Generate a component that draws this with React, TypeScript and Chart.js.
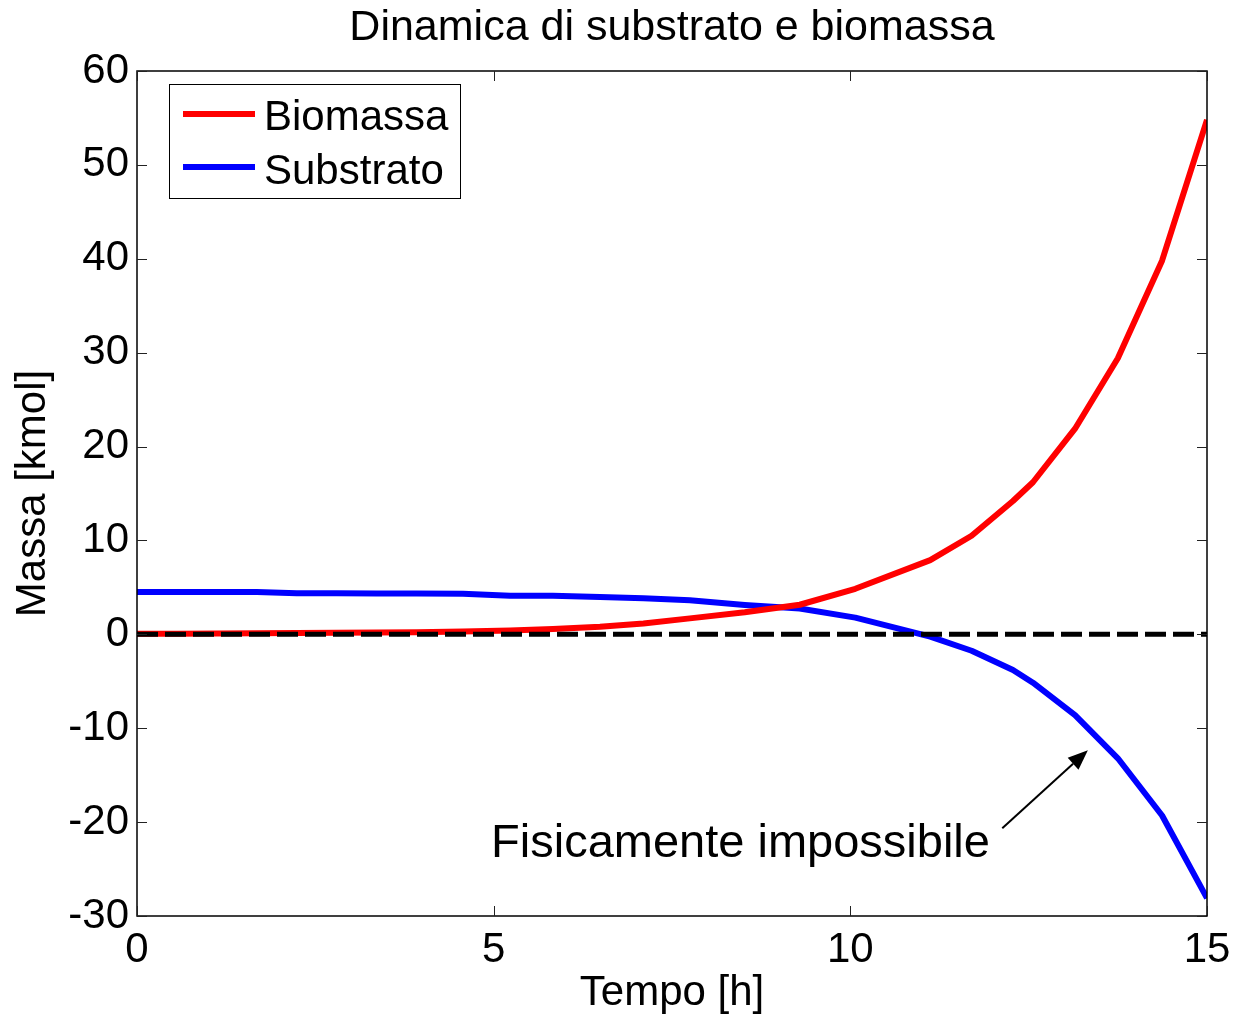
import React, { useEffect, useRef } from "react";
import { Chart, registerables } from "chart.js";

Chart.register(...registerables);

// ---- data ----
const timeH = [0, 0.56, 1.12, 1.68, 2.24, 2.8, 3.36, 3.92, 4.57, 5.23, 5.83, 6.49, 7.1, 7.75, 8.52, 9.29, 10.07, 11.12, 11.7, 12.28, 12.56, 13.15, 13.75, 14.37, 15];
const biomassa = [0.05, 0.06, 0.08, 0.12, 0.14, 0.16, 0.19, 0.22, 0.3, 0.4, 0.58, 0.82, 1.15, 1.7, 2.35, 3.15, 4.85, 7.9, 10.5, 14.2, 16.2, 21.9, 29.4, 39.8, 54.8];
const substrato = [4.5, 4.5, 4.5, 4.5, 4.38, 4.38, 4.36, 4.35, 4.33, 4.12, 4.1, 3.97, 3.85, 3.62, 3.12, 2.75, 1.78, -0.25, -1.75, -3.8, -5.15, -8.6, -13.2, -19.3, -28.1];
const zeroLineT = [0, 15];
const zeroLineV = [0, 0];
const xTicks = [0, 5, 10, 15];
const yTicks = [-30, -20, -10, 0, 10, 20, 30, 40, 50, 60];
const seriesLabels = ["Biomassa", "Substrato"];
const chartTitle = "Dinamica di substrato e biomassa";
const xLabel = "Tempo [h]";
const yLabel = "Massa [kmol]";
const annotationText = "Fisicamente impossibile";
const annotationPos = { x: 8.46, y: -23.75 };
const arrowFrom = { x: 12.13, y: -20.66 };
const arrowTo = { x: 13.33, y: -12.35 };

const FONT = '"Liberation Sans", Arial, Helvetica, sans-serif';
const RED = "#ff0000";
const BLUE = "#0000ff";

const decorPlugin = {
  id: "decor",
  afterDraw(chart: any) {
    const { ctx, chartArea: a, scales } = chart;
    const xs = scales.x;
    const ys = scales.y;
    ctx.save();
    // axes box
    ctx.strokeStyle = "#000";
    ctx.lineWidth = 1.5;
    ctx.strokeRect(a.left, a.top, a.right - a.left, a.bottom - a.top);
    // inward ticks
    ctx.lineWidth = 1;
    ctx.strokeStyle = "#222";
    const tl = 10;
    ctx.beginPath();
    yTicks.forEach((v) => {
      const p = Math.round(ys.getPixelForValue(v)) + 0.5;
      ctx.moveTo(a.left, p);
      ctx.lineTo(a.left + tl, p);
      ctx.moveTo(a.right - tl, p);
      ctx.lineTo(a.right, p);
    });
    xTicks.forEach((v) => {
      const p = Math.round(xs.getPixelForValue(v)) + 0.5;
      ctx.moveTo(p, a.bottom);
      ctx.lineTo(p, a.bottom - tl);
      ctx.moveTo(p, a.top);
      ctx.lineTo(p, a.top + tl);
    });
    ctx.stroke();

    // title
    ctx.fillStyle = "#000";
    ctx.font = `43px ${FONT}`;
    ctx.textAlign = "center";
    ctx.textBaseline = "alphabetic";
    ctx.fillText(chartTitle, (a.left + a.right) / 2, 40);

    // legend
    const lx = 169.5, ly = 84.5, lw = 291, lh = 114;
    ctx.fillStyle = "#fff";
    ctx.fillRect(lx, ly, lw, lh);
    ctx.strokeStyle = "#000";
    ctx.lineWidth = 1;
    ctx.strokeRect(lx, ly, lw, lh);
    const entries = [
      { label: seriesLabels[0], color: RED, y: 114, base: 130 },
      { label: seriesLabels[1], color: BLUE, y: 167, base: 184 },
    ];
    ctx.font = `42px ${FONT}`;
    ctx.textAlign = "left";
    entries.forEach((e) => {
      ctx.strokeStyle = e.color;
      ctx.lineWidth = 6;
      ctx.beginPath();
      ctx.moveTo(183, e.y);
      ctx.lineTo(255, e.y);
      ctx.stroke();
      ctx.fillStyle = "#000";
      ctx.fillText(e.label, 264, e.base);
    });

    // annotation text
    ctx.font = `47px ${FONT}`;
    ctx.textAlign = "center";
    ctx.fillStyle = "#000";
    ctx.fillText(annotationText, xs.getPixelForValue(annotationPos.x), ys.getPixelForValue(annotationPos.y));

    // arrow
    const x1 = xs.getPixelForValue(arrowFrom.x), y1 = ys.getPixelForValue(arrowFrom.y);
    const x2 = xs.getPixelForValue(arrowTo.x), y2 = ys.getPixelForValue(arrowTo.y);
    const ang = Math.atan2(y2 - y1, x2 - x1);
    const hl = 20, hw = 8;
    const bx = x2 - hl * Math.cos(ang), by = y2 - hl * Math.sin(ang);
    ctx.strokeStyle = "#000";
    ctx.lineWidth = 2;
    ctx.beginPath();
    ctx.moveTo(x1, y1);
    ctx.lineTo(bx, by);
    ctx.stroke();
    ctx.fillStyle = "#000";
    ctx.beginPath();
    ctx.moveTo(x2, y2);
    ctx.lineTo(bx + hw * Math.sin(ang), by - hw * Math.cos(ang));
    ctx.lineTo(bx - hw * Math.sin(ang), by + hw * Math.cos(ang));
    ctx.closePath();
    ctx.fill();
    ctx.restore();
  },
};

export default function App() {
  const ref = useRef<HTMLCanvasElement | null>(null);
  useEffect(() => {
    document.body.style.margin = "0";
    const canvas = ref.current;
    if (!canvas) return;
    const chart = new Chart(canvas, {
      type: "line",
      data: {
        datasets: [
          {
            label: "zero",
            data: zeroLineT.map((t, i) => ({ x: t, y: zeroLineV[i] })),
            borderColor: "#000",
            borderWidth: 5,
            borderDash: [21, 7],
            pointRadius: 0,
            order: 0,
          },
          {
            label: seriesLabels[0],
            data: timeH.map((t, i) => ({ x: t, y: biomassa[i] })),
            borderColor: RED,
            borderWidth: 6,
            borderJoinStyle: "round",
            pointRadius: 0,
            tension: 0,
            order: 1,
          },
          {
            label: seriesLabels[1],
            data: timeH.map((t, i) => ({ x: t, y: substrato[i] })),
            borderColor: BLUE,
            borderWidth: 6,
            borderJoinStyle: "round",
            pointRadius: 0,
            tension: 0,
            order: 2,
          },
        ],
      },
      options: {
        animation: false,
        responsive: false,
        maintainAspectRatio: false,
        devicePixelRatio: 1,
        layout: { padding: { top: 71, right: 29, left: 0, bottom: 0 } },
        plugins: {
          legend: { display: false },
          tooltip: { enabled: false },
          title: { display: false },
        },
        scales: {
          x: {
            type: "linear",
            min: 0,
            max: 15,
            afterFit: (s: any) => {
              s.height = 101;
              s.paddingLeft = 0;
              s.paddingRight = 0;
            },
            afterBuildTicks: (s: any) => {
              s.ticks = xTicks.map((v) => ({ value: v }));
            },
            ticks: {
              font: { family: FONT, size: 42 },
              color: "#000",
              padding: 9,
              autoSkip: false,
              maxRotation: 0,
            },
            grid: { display: false, drawTicks: false },
            border: { display: false },
            title: {
              display: true,
              text: xLabel,
              color: "#000",
              font: { family: FONT, size: 42 },
              padding: { top: 0, bottom: -2 },
            },
          },
          y: {
            type: "linear",
            min: -30,
            max: 60,
            afterFit: (s: any) => {
              s.width = 137;
              s.paddingTop = 0;
              s.paddingBottom = 0;
            },
            afterBuildTicks: (s: any) => {
              s.ticks = yTicks.map((v) => ({ value: v }));
            },
            ticks: {
              font: { family: FONT, size: 42 },
              color: "#000",
              padding: 8,
              autoSkip: false,
            },
            grid: { display: false, drawTicks: false },
            border: { display: false },
            title: {
              display: true,
              text: yLabel,
              color: "#000",
              font: { family: FONT, size: 42 },
              padding: { top: 8, bottom: 0 },
            },
          },
        },
      },
      plugins: [decorPlugin],
    } as any);
    return () => chart.destroy();
  }, []);
  return <canvas ref={ref} width={1236} height={1017} style={{ display: "block" }} />;
}
